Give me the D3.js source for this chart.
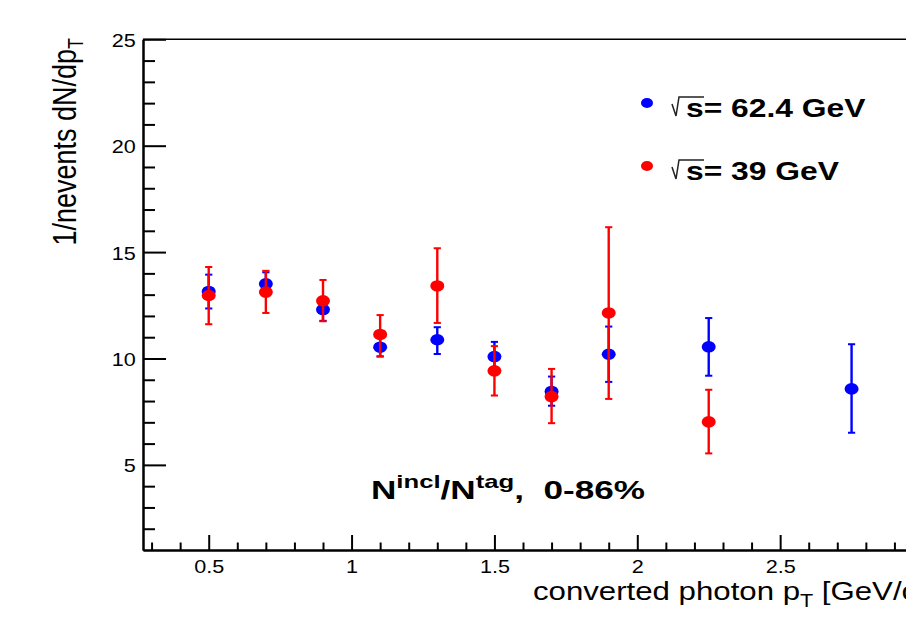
<!DOCTYPE html>
<html>
<head>
<meta charset="utf-8">
<script src="https://cdn.jsdelivr.net/npm/d3@7"></script>
<style>
  body { margin: 0; background: #fff; }
  svg { display: block; }
  text { font-family: "Liberation Sans", Arial, Helvetica, sans-serif; fill: #000; white-space: pre; }
</style>
</head>
<body>
<svg id="chart" width="906" height="631"></svg>
<script>
// Converted photon yield per event vs pT, two beam energies
const pT62  = [0.5, 0.7, 0.9, 1.1, 1.3, 1.5, 1.7, 1.9, 2.25, 2.75];
const val62 = [13.15, 13.51, 12.30, 10.53, 10.88, 10.09, 8.45, 10.20, 10.55, 8.57];
const lo62  = [12.35, 12.97, 11.77, 10.10, 10.21, 9.40, 7.78, 8.90, 9.19, 6.51];
const hi62  = [13.94, 14.05, 12.83, 10.96, 11.47, 10.78, 9.15, 11.50, 11.90, 10.67];

const pT39  = [0.5, 0.7, 0.9, 1.1, 1.3, 1.5, 1.7, 1.9, 2.25];
const val39 = [12.96, 13.12, 12.71, 11.13, 13.41, 9.42, 8.21, 12.14, 7.02];
const lo39  = [11.61, 12.14, 11.75, 10.09, 11.67, 8.26, 6.96, 8.10, 5.54];
const hi39  = [14.30, 14.12, 13.69, 12.04, 15.18, 10.58, 9.51, 16.17, 8.53];

const seriesNames  = ["62.4 GeV", "39 GeV"];
const seriesColors = ["#0000ff", "#ff0000"];

const xMajorTicks = [0.5, 1, 1.5, 2, 2.5];
const xMinorTicks = [0.3, 0.4, 0.6, 0.7, 0.8, 0.9, 1.1, 1.2, 1.3, 1.4, 1.6, 1.7, 1.8, 1.9,
                     2.1, 2.2, 2.3, 2.4, 2.6, 2.7, 2.8, 2.9];
const yMajorTicks = [5, 10, 15, 20, 25];
const yMinorTicks = [2, 3, 4, 6, 7, 8, 9, 11, 12, 13, 14, 16, 17, 18, 19, 21, 22, 23, 24];

// glyphs are drawn a little wider than tall
const SX = 1.2;

const svg = d3.select("#chart");

const x = d3.scaleLinear().domain([0.27, 3.0]).range([143, 923]);
const y = d3.scaleLinear().domain([1, 25]).range([550, 39.3]);

// ---- axes ----
const yMinor = d3.axisLeft(y).tickValues(yMinorTicks).tickSize(-12).tickSizeOuter(0).tickFormat("");
const yMajor = d3.axisLeft(y).tickValues(yMajorTicks).tickSize(-23).tickSizeOuter(0)
  .tickFormat(d3.format("d")).tickPadding(6);
const xMinor = d3.axisBottom(x).tickValues(xMinorTicks).tickSize(-7.5).tickSizeOuter(0).tickFormat("");
const xMajor = d3.axisBottom(x).tickValues(xMajorTicks).tickSize(-15).tickSizeOuter(0)
  .tickFormat(d => d3.format("")(d)).tickPadding(0);

function styleAxis(g) {
  g.selectAll("path.domain").attr("stroke", "#000").attr("stroke-width", 2);
  g.selectAll(".tick line").attr("stroke", "#000").attr("stroke-width", 2);
}

svg.append("g").attr("transform", "translate(143,0)").call(yMinor).call(styleAxis);
const gy = svg.append("g").attr("transform", "translate(143,0)").call(yMajor).call(styleAxis);
gy.selectAll(".tick text")
  .attr("font-size", 18).attr("dy", null).attr("y", 7)
  .attr("transform", `scale(${SX},1)`);

svg.append("g").attr("transform", "translate(0,550)").call(xMinor).call(styleAxis);
const gx = svg.append("g").attr("transform", "translate(0,550)").call(xMajor).call(styleAxis);
gx.selectAll(".tick text")
  .attr("font-size", 18).attr("dy", null).attr("y", 23)
  .attr("transform", `scale(${SX},1)`);

// top frame line
svg.append("line")
  .attr("x1", x(0.27)).attr("x2", 906)
  .attr("y1", y(25)).attr("y2", y(25))
  .attr("stroke", "#000").attr("stroke-width", 1.6);

// ---- axis titles ----
const yTitle = svg.append("text")
  .attr("transform", `translate(76,38) scale(${SX},1) rotate(-90)`)
  .attr("text-anchor", "end").attr("font-size", 27);
yTitle.append("tspan").text("1/nevents dN/dp");
yTitle.append("tspan").attr("font-size", 18).attr("dy", 6).text("T");

const xTitle = svg.append("text")
  .attr("transform", `translate(533,600) scale(${SX},1)`)
  .attr("font-size", 26);
xTitle.append("tspan").text("converted photon p");
xTitle.append("tspan").attr("font-size", 18).attr("dy", 7).text("T");
xTitle.append("tspan").attr("dy", -7).text(" [GeV/c]");

// ---- data ----
function drawSeries(px, vals, lo, hi, color) {
  const g = svg.append("g");
  const rows = px.map((p, i) => ({ p, v: vals[i], lo: lo[i], hi: hi[i] }));
  g.selectAll("line.bar").data(rows).join("line")
    .attr("x1", d => x(d.p)).attr("x2", d => x(d.p))
    .attr("y1", d => y(d.lo)).attr("y2", d => y(d.hi))
    .attr("stroke", color).attr("stroke-width", 2.4);
  ["lo", "hi"].forEach(k => {
    g.selectAll("line.cap-" + k).data(rows).join("line")
      .attr("x1", d => x(d.p) - 3.6).attr("x2", d => x(d.p) + 3.6)
      .attr("y1", d => y(d[k])).attr("y2", d => y(d[k]))
      .attr("stroke", color).attr("stroke-width", 2);
  });
  g.selectAll("ellipse").data(rows).join("ellipse")
    .attr("cx", d => x(d.p)).attr("cy", d => y(d.v))
    .attr("rx", 7).attr("ry", 5.8)
    .attr("fill", color);
}
drawSeries(pT62, val62, lo62, hi62, seriesColors[0]);
drawSeries(pT39, val39, lo39, hi39, seriesColors[1]);

// ---- legend ----
const legend = svg.append("g");
seriesNames.forEach((name, i) => {
  const row = legend.append("g").attr("transform", `translate(647,${103 + i * 63})`);
  row.append("ellipse").attr("rx", 6).attr("ry", 5).attr("fill", seriesColors[i]);
  // radical sign over s
  row.append("path")
    .attr("d", "M25,1 L29,13 L32,-6 L57,-6")
    .attr("fill", "none").attr("stroke", "#222").attr("stroke-width", 1.5);
  row.append("text")
    .attr("transform", `translate(39,13.5) scale(${SX},1)`)
    .attr("font-size", 26.5).attr("font-weight", "bold")
    .text("s= " + name);
});

// ---- centrality annotation ----
const ann = svg.append("text")
  .attr("x", 371).attr("y", 499)
  .attr("font-size", 26).attr("font-weight", "bold")
  .attr("textLength", 274).attr("lengthAdjust", "spacingAndGlyphs");
ann.append("tspan").text("N");
ann.append("tspan").attr("font-size", 19).attr("dy", -11).text("incl");
ann.append("tspan").attr("dy", 11).text("/N");
ann.append("tspan").attr("font-size", 19).attr("dy", -11).text("tag");
ann.append("tspan").attr("dy", 11).text(",  0-86%");
</script>
</body>
</html>
